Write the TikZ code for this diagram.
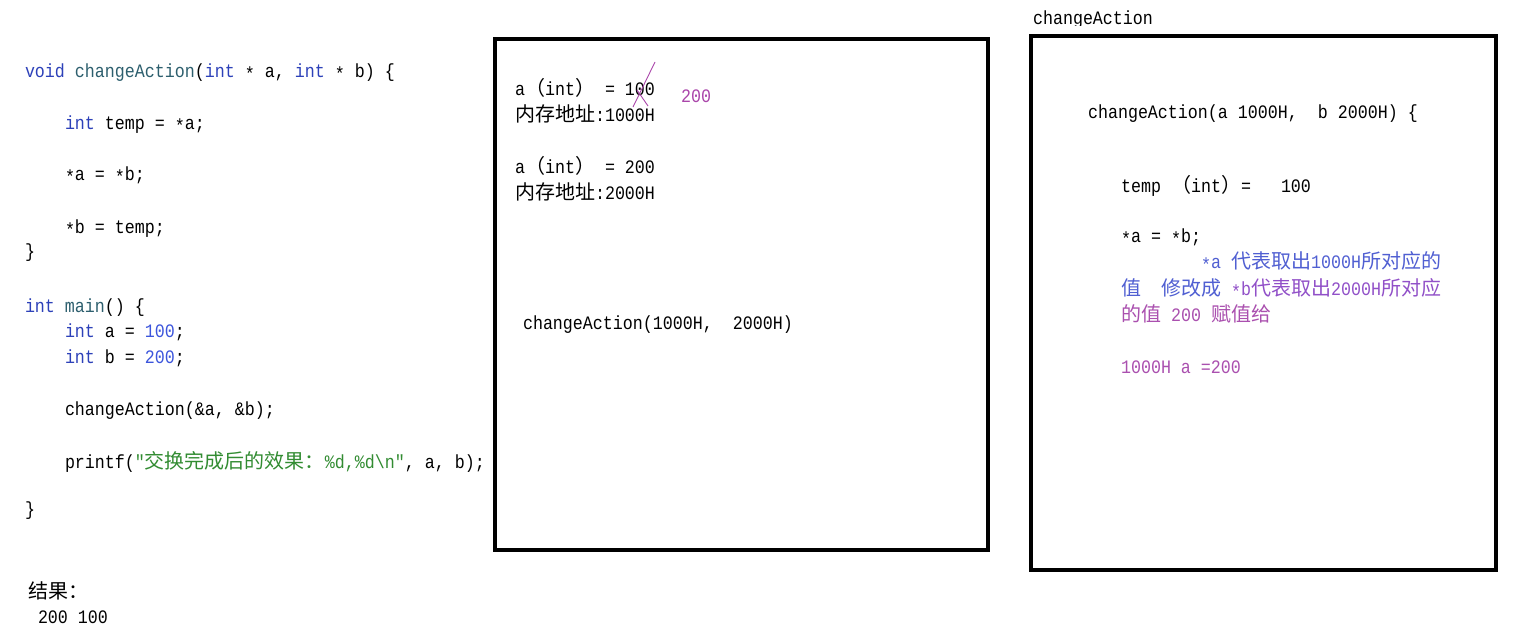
\documentclass[tikz,border=0pt]{standalone}
\usepackage{fontspec}
\newfontfamily\code{Liberation Mono}[FakeStretch=0.877]
\newfontfamily\cjkf{Noto Sans CJK SC}
\newcommand\C[1]{{\cjkf\fontsize{20}{22}\selectfont #1}}
\newcommand\st{\raisebox{-3pt}{*}}
\newcommand\codefont{\code\fontsize{19}{22}\selectfont\frenchspacing\spaceskip=10pt\relax}
\definecolor{kw}{RGB}{45,65,185}
\definecolor{fn}{RGB}{45,95,110}
\definecolor{num}{RGB}{60,85,220}
\definecolor{str}{RGB}{50,140,50}
\definecolor{pur}{RGB}{170,70,170}
\definecolor{rblue}{RGB}{80,95,210}
\definecolor{rviolet}{RGB}{145,80,200}
\definecolor{rpurple}{RGB}{170,80,175}
\tikzset{
  txt/.style={anchor=base west, inner sep=0pt, outer sep=0pt, font=\codefont},
  frame/.style={draw=black, line width=4pt, anchor=north west, inner sep=0pt, outer sep=0pt},
  strike/.style={draw=pur, line width=0.9pt}
}
\begin{document}
\begin{tikzpicture}[x=1pt,y=-1pt]
\useasboundingbox[fill=white] (0,0) rectangle (1518,640);
% frames
\node[frame, minimum width=493pt, minimum height=511pt] (box1) at (495,39) {};
\node[frame, minimum width=465pt, minimum height=534pt] (box2) at (1031,36) {};
% left code
\node[txt] (l1) at (25,77) {\textcolor{kw}{void} \textcolor{fn}{changeAction}(\textcolor{kw}{int} \st{} a, \textcolor{kw}{int} \st{} b) \{};
\node[txt] (l2) at (65,129) {\textcolor{kw}{int} temp = \st a;};
\node[txt] (l3) at (65,180) {\st a = \st b;};
\node[txt] (l4) at (65,233) {\st b = temp;};
\node[txt] (l5) at (25,257) {\}};
\node[txt] (l6) at (25,312) {\textcolor{kw}{int} \textcolor{fn}{main}() \{};
\node[txt] (l7) at (65,337) {\textcolor{kw}{int} a = \textcolor{num}{100};};
\node[txt] (l8) at (65,363) {\textcolor{kw}{int} b = \textcolor{num}{200};};
\node[txt] (l9) at (65,415) {changeAction(\&a, \&b);};
\node[txt] (l10) at (65,468) {printf(\textcolor{str}{"\C{交换完成后的效果：}\%d,\%d\textbackslash n"}, a, b);};
\node[txt] (l11) at (25,515) {\}};
\node[txt] (res) at (28,598) {\C{结果：}};
\node[txt] (resv) at (38,623) {200 100};
% box 1
\node[txt] (a1) at (515,95) {a\C{（}int\C{）} = 100};
\node[txt] (m1) at (515,121) {\C{内存地址}:1000H};
\node[txt, text=pur] (v200) at (681,102) {200};
\node[txt] (a2) at (515,173) {a\C{（}int\C{）} = 200};
\node[txt] (m2) at (515,199) {\C{内存地址}:2000H};
\node[txt] (call) at (523,329) {changeAction(1000H,\ \ 2000H)};
\draw[strike] (655,62) -- (633,107);
\draw[strike] (637,90) -- (648,106);
% box 2
\begin{scope}
\clip (1020,0) rectangle (1300,25);
\node[txt] (title) at (1033,24) {changeAction};
\end{scope}
\node[txt] (r1) at (1088,118) {changeAction(a 1000H,\ \ b 2000H) \{};
\node[txt] (r2) at (1121,192) {temp \C{（}int\C{）}=\ \ \ 100};
\node[txt] (r3) at (1121,242) {\st a = \st b;};
\node[txt] (r4) at (1201,268) {\textcolor{rblue}{\st a \C{代表取出}1000H\C{所对应的}}};
\node[txt] (r5) at (1121,295) {\textcolor{rblue}{\C{值}\ \ \C{修改成}} \textcolor{rviolet}{\st b\C{代表取出}2000H\C{所对应}}};
\node[txt] (r6) at (1121,321) {\textcolor{rpurple}{\C{的值} 200 \C{赋值给}}};
\node[txt] (r7) at (1121,373) {\textcolor{rpurple}{1000H a =200}};
\end{tikzpicture}
\end{document}
